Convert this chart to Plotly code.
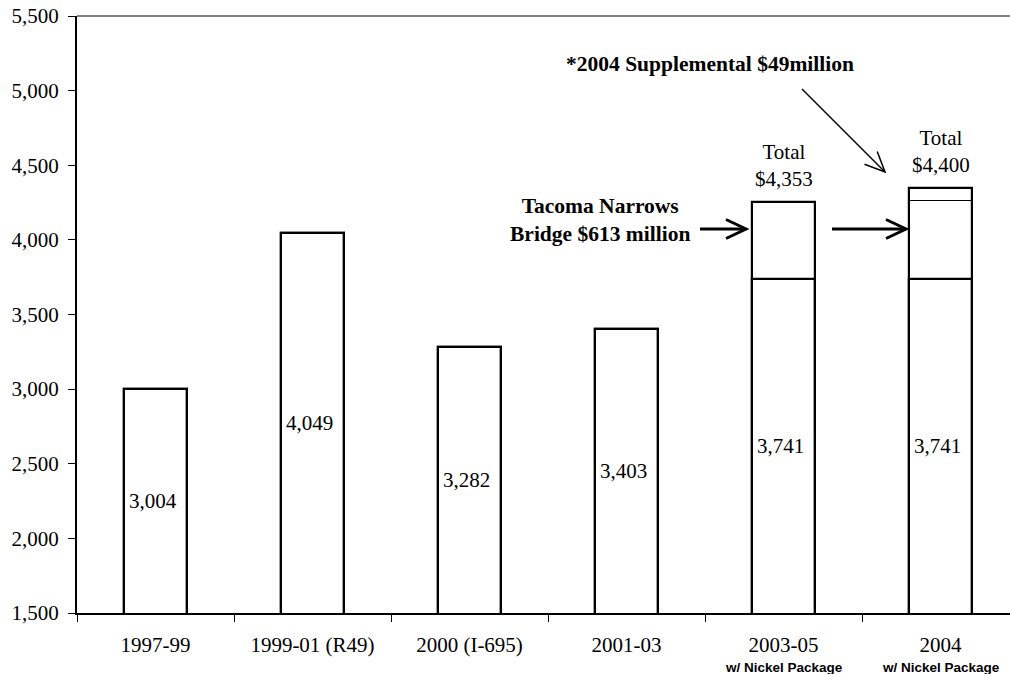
import math
import plotly.graph_objects as go

# ---- data ----
categories = ["1997-99", "1999-01 (R49)", "2000 (I-695)", "2001-03", "2003-05", "2004"]
sub_labels = ["", "", "", "", "w/ Nickel Package", "w/ Nickel Package"]
base_values = [3004, 4049, 3282, 3403, 3741, 3741]
tacoma_values = [0, 0, 0, 0, 513, 520]
supplemental_values = [0, 0, 0, 0, 0, 87]
total_labels = ["", "", "", "", "Total<br>$4,353", "Total<br>$4,400"]
y_ticks = [1500, 2000, 2500, 3000, 3500, 4000, 4500, 5000, 5500]
y_min, y_max = 1500, 5500

SERIF = "Liberation Serif, Times New Roman, serif"
FS = 21
W, H = 1010, 674
ML, MR, MT, MB = 77, 0, 16, 61
PW, PH = W - ML - MR, H - MT - MB
CAT_PX = 157.0
x_range = [-0.5, -0.5 + PW / CAT_PX]

def px_to_paper(px, py):
    return (px - ML) / PW, (H - MB - py) / PH

tops = [b + t + s for b, t, s in zip(base_values, tacoma_values, supplemental_values)]
mid = [b + t if s > 0 else None for b, t, s in zip(base_values, tacoma_values, supplemental_values)]

fig = go.Figure()
fig.add_trace(go.Bar(x=categories, y=tops, width=0.40,
                     marker=dict(color="white", line=dict(color="black", width=2.2)),
                     hoverinfo="skip"))
fig.add_trace(go.Bar(x=categories, y=mid, width=0.40,
                     marker=dict(color="rgba(0,0,0,0)", line=dict(color="black", width=1)),
                     hoverinfo="skip"))
fig.add_trace(go.Bar(x=categories, y=base_values, width=0.40,
                     marker=dict(color="rgba(0,0,0,0)", line=dict(color="black", width=2.2)),
                     hoverinfo="skip"))

annotations = []
# value labels inside bars
for i, v in enumerate(base_values):
    annotations.append(dict(x=i, y=(y_min + v) / 2, xref="x", yref="y", text=f"{v:,}",
                            showarrow=False, xanchor="center", yanchor="middle", xshift=-3,
                            font=dict(family=SERIF, size=FS, color="black")))
# totals above bars
for i, (t, lab) in enumerate(zip(tops, total_labels)):
    if lab:
        annotations.append(dict(x=i, y=t, xref="x", yref="y", text=lab, showarrow=False,
                                xanchor="center", yanchor="bottom", yshift=9,
                                font=dict(family=SERIF, size=FS, color="black")))
# sub labels under category ticks
for i, lab in enumerate(sub_labels):
    if lab:
        annotations.append(dict(x=i, y=0, xref="x", yref="paper", text=f"<b>{lab}</b>",
                                showarrow=False, xanchor="center", yanchor="middle", yshift=-54,
                                font=dict(family="Liberation Sans, Arial, sans-serif", size=13.5, color="black")))

def text_at(px, py, text, size=21.5, bold=True):
    xp, yp = px_to_paper(px, py)
    annotations.append(dict(x=xp, y=yp, xref="paper", yref="paper",
                            text=f"<b>{text}</b>" if bold else text, showarrow=False,
                            xanchor="center", yanchor="middle", align="center",
                            font=dict(family=SERIF, size=size, color="black")))

text_at(710, 64, "*2004 Supplemental $49million")
text_at(600, 220, "Tacoma Narrows<br>Bridge $613 million")

shapes = []
def arrow(x0, y0, x1, y1, width, head_len, head_half):
    ang = math.atan2(y1 - y0, x1 - x0)
    a0 = px_to_paper(x0, y0)
    a1 = px_to_paper(x1, y1)
    shapes.append(dict(type="line", xref="paper", yref="paper", x0=a0[0], y0=a0[1], x1=a1[0], y1=a1[1],
                       line=dict(color="black", width=width)))
    pts = []
    for s in (1, -1):
        bx = x1 - head_len * math.cos(ang) + s * head_half * math.sin(ang)
        by = y1 - head_len * math.sin(ang) - s * head_half * math.cos(ang)
        pts.append(px_to_paper(bx, by))
    path = f"M {pts[0][0]},{pts[0][1]} L {a1[0]},{a1[1]} L {pts[1][0]},{pts[1][1]}"
    shapes.append(dict(type="path", xref="paper", yref="paper", path=path,
                       line=dict(color="black", width=width)))

arrow(700, 229, 746, 229, 3, 20, 9.5)
arrow(832, 229, 906, 229, 3, 20, 9.5)
arrow(802, 89, 885, 172, 1.5, 20, 9)

# top border line
shapes.append(dict(type="line", xref="paper", yref="paper", x0=0, y0=1, x1=1, y1=1,
                   line=dict(color="#808080", width=2)))

fig.update_layout(
    width=W, height=H, autosize=False,
    margin=dict(l=ML, r=MR, t=MT, b=MB),
    paper_bgcolor="white", plot_bgcolor="white",
    barmode="overlay", showlegend=False, bargap=0,
    annotations=annotations, shapes=shapes,
    font=dict(family=SERIF, size=FS, color="black"),
)
fig.update_xaxes(type="category", range=x_range, showgrid=False, showline=True,
                 linecolor="black", linewidth=2, ticks="outside", tickson="boundaries",
                 ticklen=7, tickwidth=1, tickcolor="black", ticklabelstandoff=12,
                 tickfont=dict(family=SERIF, size=FS, color="black"))
fig.update_yaxes(range=[y_min, y_max], tickvals=y_ticks,
                 ticktext=[f"{v:,}" for v in y_ticks], showgrid=False, showline=True,
                 linecolor="black", linewidth=2, ticks="outside", ticklen=7, tickwidth=1,
                 tickcolor="black", zeroline=False, ticklabelstandoff=5,
                 tickfont=dict(family=SERIF, size=FS, color="black"))

fig.write_html("out.html")
